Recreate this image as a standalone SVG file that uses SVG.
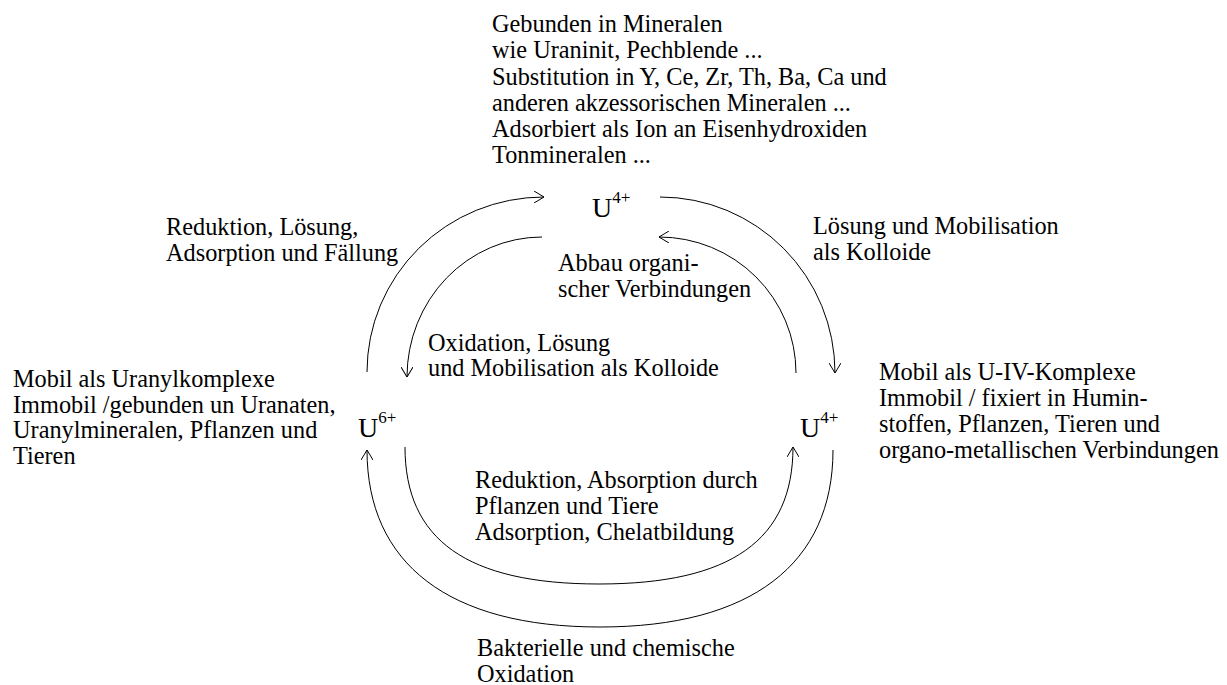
<svg xmlns="http://www.w3.org/2000/svg" width="1227" height="685" viewBox="0 0 1227 685" font-family="'Liberation Serif', 'DejaVu Serif', serif">
<style>
text{font-family:'Liberation Serif','DejaVu Serif',serif;font-size:24.3px;fill:#000}
.u{font-size:28px}
.sup{font-size:17px}
.c{fill:none;stroke:#000;stroke-width:1}
</style>
<defs>
<marker id="ah" viewBox="0 0 10 12" refX="10" refY="6" markerWidth="10" markerHeight="12" markerUnits="userSpaceOnUse" orient="auto">
<path d="M0,0 L10,6 L0,12" fill="none" stroke="#000" stroke-width="1"/>
</marker>
</defs>
<rect width="1227" height="685" fill="#fff"/>
<g id="connectors">
<path class="c" d="M367 372 A177 175 0 0 1 544 197" marker-end="url(#ah)"/>
<path class="c" d="M542 237 A135 140 0 0 0 407 377" marker-end="url(#ah)"/>
<path class="c" d="M660 197 A175 176 0 0 1 835 373" marker-end="url(#ah)"/>
<path class="c" d="M796 373 A137 136 0 0 0 659 237" marker-end="url(#ah)"/>
<path class="c" d="M405 447 C405 540 467 584 599 584 C731 584 793 540 793 447" marker-end="url(#ah)"/>
<path class="c" d="M833 450 C833 564 751 627 600 627 C449 627 367 564 367 450" marker-end="url(#ah)"/>
</g>
<g id="node-u4-top">
<text x="592" y="217"><tspan class="u">U</tspan><tspan class="sup" dy="-14">4+</tspan></text>
<text x="492" y="32">Gebunden in Mineralen</text>
<text x="492" y="58">wie Uraninit, Pechblende ...</text>
<text x="492" y="84.5">Substitution in Y, Ce, Zr, Th, Ba, Ca und</text>
<text x="492" y="110.5">anderen akzessorischen Mineralen ...</text>
<text x="492" y="137">Adsorbiert als Ion an Eisenhydroxiden</text>
<text x="492" y="163">Tonmineralen ...</text>
</g>
<g id="node-u6-left">
<text x="358" y="437"><tspan class="u">U</tspan><tspan class="sup" dy="-14">6+</tspan></text>
<text x="13" y="387">Mobil als Uranylkomplexe</text>
<text x="13" y="412.5">Immobil /gebunden un Uranaten,</text>
<text x="13" y="438">Uranylmineralen, Pflanzen und</text>
<text x="13" y="464">Tieren</text>
</g>
<g id="node-u4-right">
<text x="800" y="437"><tspan class="u">U</tspan><tspan class="sup" dy="-14">4+</tspan></text>
<text x="879" y="380">Mobil als U-IV-Komplexe</text>
<text x="879" y="406">Immobil / fixiert in Humin-</text>
<text x="879" y="432">stoffen, Pflanzen, Tieren und</text>
<text x="879" y="458">organo-metallischen Verbindungen</text>
</g>
<g id="labels">
<text x="166" y="235">Reduktion, Lösung,</text>
<text x="166" y="261">Adsorption und Fällung</text>
<text x="813" y="234">Lösung und Mobilisation</text>
<text x="813" y="260">als Kolloide</text>
<text x="558" y="271">Abbau organi-</text>
<text x="558" y="297">scher Verbindungen</text>
<text x="428" y="351">Oxidation, Lösung</text>
<text x="428" y="376">und Mobilisation als Kolloide</text>
<text x="475" y="488">Reduktion, Absorption durch</text>
<text x="475" y="514">Pflanzen und Tiere</text>
<text x="475" y="540">Adsorption, Chelatbildung</text>
<text x="477" y="656">Bakterielle und chemische</text>
<text x="477" y="682">Oxidation</text>
</g>
</svg>
